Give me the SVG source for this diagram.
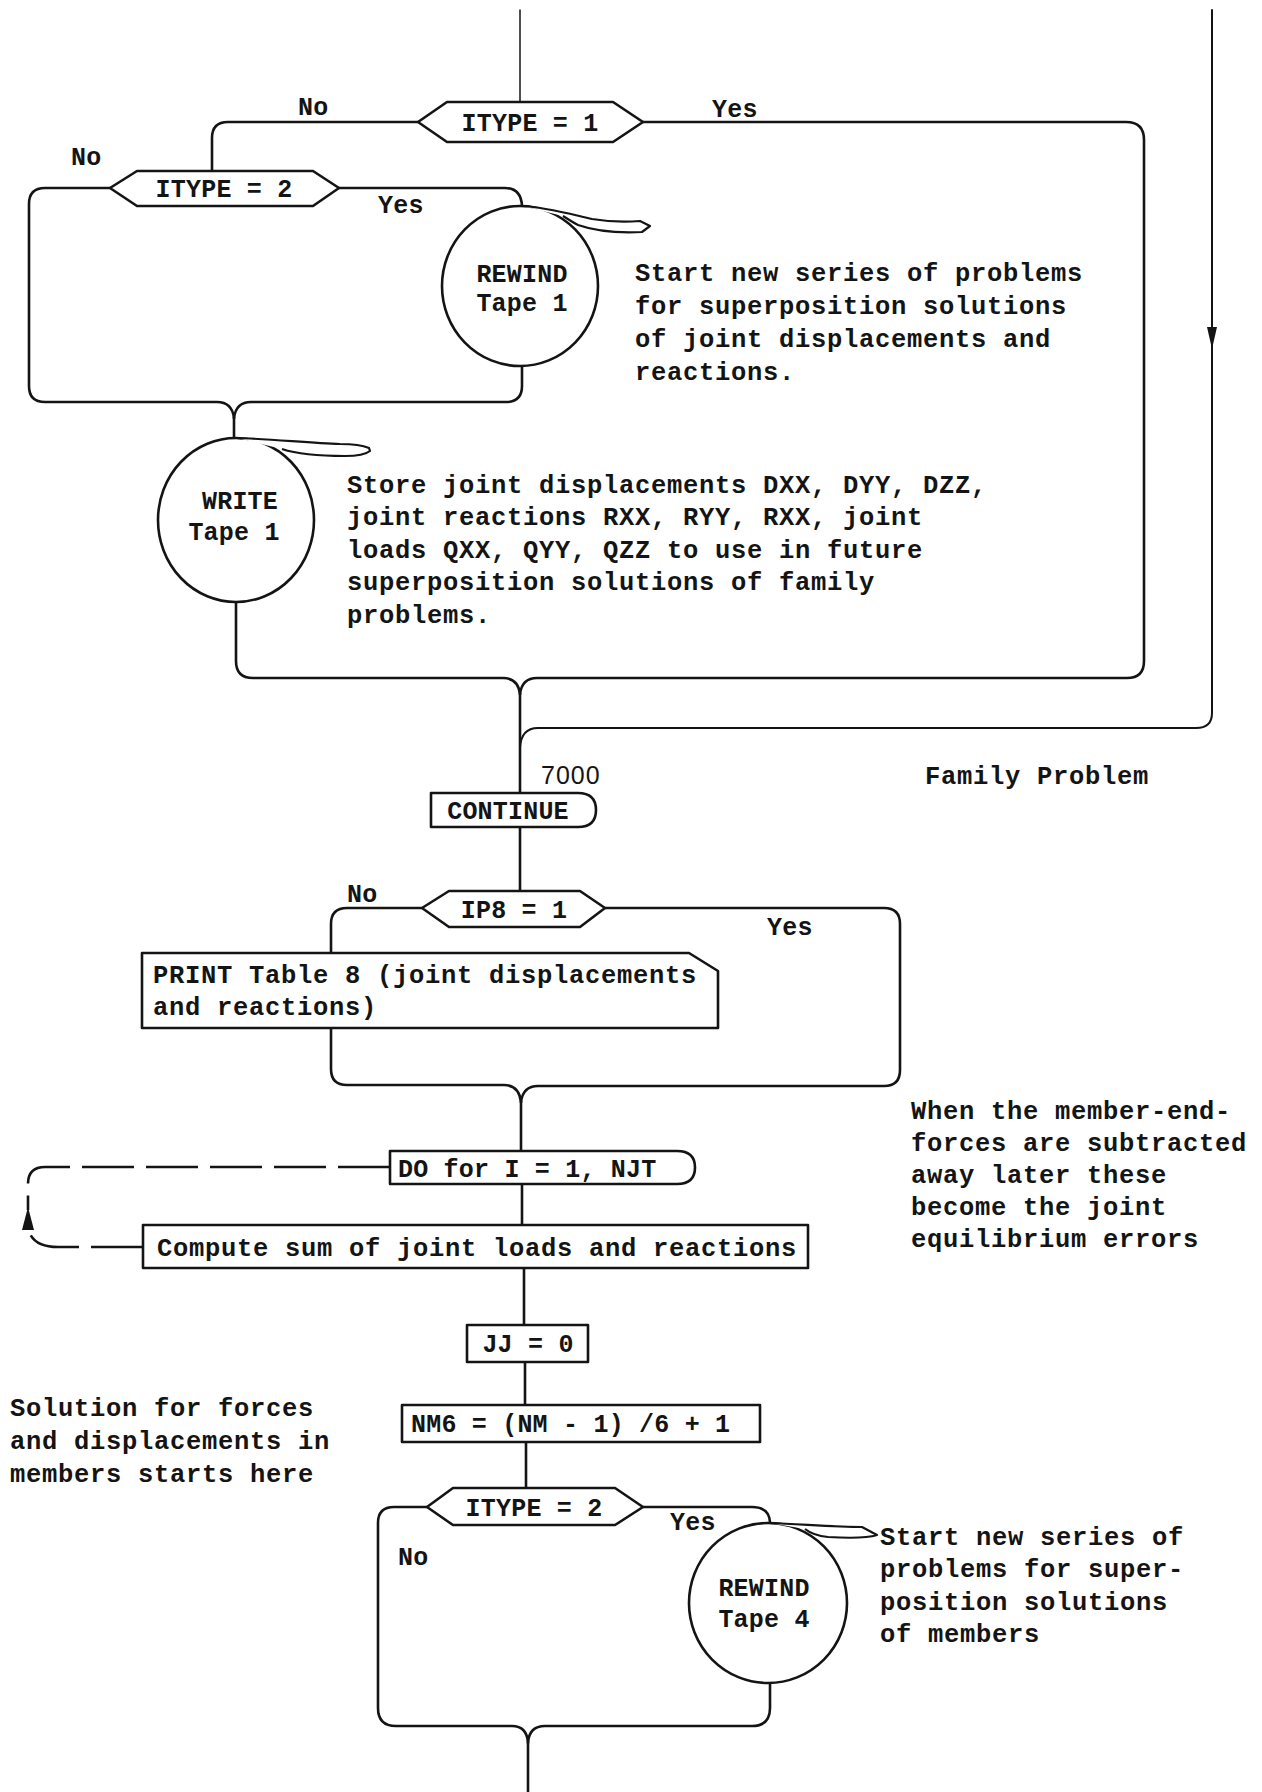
<svg xmlns="http://www.w3.org/2000/svg" width="1262" height="1792" viewBox="0 0 1262 1792">
  <style>
    .ln { fill: none; stroke: #141414; stroke-width: 2.6; stroke-linecap: round; stroke-linejoin: round; }
    .thin { stroke-width: 1.5; }
    .dash { stroke-dasharray: 52 12; stroke-linecap: butt; }
    .shape { fill: #fff; stroke: #141414; stroke-width: 2.6; stroke-linejoin: round; }
    .tail { fill: #fff; stroke: #141414; stroke-width: 2.2; stroke-linejoin: round; }
    .t { font-family: "Liberation Mono", "DejaVu Sans Mono", monospace; font-size: 25.5px; font-weight: bold; letter-spacing: 0.7px; fill: #141414; }
    .lab { font-size: 25px; letter-spacing: 0.2px; }
    .c { text-anchor: middle; }
    .num { font-family: "Liberation Sans", Arial, sans-serif; font-size: 25px; letter-spacing: 1px; fill: #141414; }
  </style>

  <rect width="1262" height="1792" fill="#fff"/>

  <!-- connectors -->
  <g id="connectors">
    <!-- entry from above into ITYPE = 1 -->
    <path class="ln thin" d="M520,10 V102"/>
    <!-- family problem path on the right -->
    <path class="ln" d="M1212,10 V713 Q1212,728 1196,728 H538 Q521,728 520,748" style="stroke-width:2"/>
    <path d="M1207,327 L1217,327 L1212,349 Z" fill="#141414"/>
    <!-- ITYPE = 1 : No -->
    <path class="ln" d="M418,122 H228 Q212,122 212,138 V171"/>
    <!-- ITYPE = 1 : Yes, down the right side and back -->
    <path class="ln" d="M643,122 H1126 Q1144,122 1144,140 V661 Q1144,678 1127,678 H537 Q522,678 520,694"/>
    <!-- ITYPE = 2 : No -->
    <path class="ln" d="M110,188 H45 Q29,188 29,204 V386 Q29,402 45,402 H217 Q232,402 234,418"/>
    <!-- ITYPE = 2 : Yes -->
    <path class="ln" d="M339,188 H505 Q521,188 522,206"/>
    <!-- REWIND tape 1 back to join -->
    <path class="ln" d="M522,366 V386 Q522,402 506,402 H251 Q236,402 234,418"/>
    <path class="ln" d="M234,418 V438"/>
    <!-- WRITE tape 1 down to join -->
    <path class="ln" d="M236,601 V661 Q236,678 253,678 H503 Q518,678 520,694"/>
    <!-- spine to CONTINUE -->
    <path class="ln" d="M520,694 V793"/>
    <path class="ln" d="M520,827 V891"/>
    <!-- IP8 = 1 : No -->
    <path class="ln" d="M422,908 H347 Q331,908 331,924 V953"/>
    <path class="ln" d="M331,1028 V1069 Q331,1085 347,1085 H504 Q519,1085 521,1102"/>
    <!-- IP8 = 1 : Yes -->
    <path class="ln" d="M605,908 H884 Q900,908 900,924 V1070 Q900,1086 884,1086 H538 Q523,1086 521,1102"/>
    <path class="ln" d="M521,1102 V1151"/>
    <!-- DO loop return (dashed) -->
    <path class="ln dash" d="M390,1167 H45 Q28,1167 28,1184 V1210"/>
    <path class="ln dash" d="M143,1247 H58 Q32,1247 28,1228"/>
    <path d="M22,1230 L34,1230 L28,1207 Z" fill="#141414"/>
    <path class="ln" d="M522,1184 V1225"/>
    <path class="ln" d="M524,1268 V1325"/>
    <path class="ln" d="M525,1362 V1405"/>
    <path class="ln" d="M526,1442 V1488"/>
    <!-- ITYPE = 2 (members) : No -->
    <path class="ln" d="M427,1507 H394 Q378,1507 378,1523 V1708 Q378,1726 396,1726 H512 Q527,1726 528,1743 V1792"/>
    <!-- ITYPE = 2 (members) : Yes -->
    <path class="ln" d="M643,1507 H752 Q769,1507 770,1522"/>
    <path class="ln" d="M770,1683 V1708 Q770,1726 752,1726 H545 Q529,1726 528,1743"/>
  </g>

  <!-- decision: ITYPE = 1 -->
  <g id="dec-itype1">
    <polygon class="shape" points="418,122 447,102 613,102 643,122 613,142 447,142"/>
    <text class="t lab c" x="530" y="131">ITYPE = 1</text>
  </g>

  <!-- decision: ITYPE = 2 -->
  <g id="dec-itype2">
    <polygon class="shape" points="110,188 137,171 313,171 339,188 313,206 137,206"/>
    <text class="t lab c" x="224" y="197">ITYPE = 2</text>
  </g>

  <!-- REWIND Tape 1 -->
  <g id="rewind1">
    <ellipse class="shape" cx="520" cy="286" rx="78" ry="80"/>
    <path class="tail" d="M522,206 C545,207 570,214 592,219 C610,222 628,222 640,221 L650,226 L642,232 C620,233 595,231 578,225 C572,222 568,219 563,216"/>
    <text class="t lab c" x="522" y="282">REWIND</text>
    <text class="t lab c" x="522" y="311">Tape 1</text>
  </g>

  <!-- WRITE Tape 1 -->
  <g id="write1">
    <ellipse class="shape" cx="236" cy="520" rx="78" ry="82"/>
    <path class="tail" d="M237,438 C270,439 310,443 340,444 C352,444 362,445 369,448 L370,451 C365,455 355,456 345,456 C320,456 300,455 282,449"/>
    <text class="t lab c" x="240" y="509">WRITE</text>
    <text class="t lab c" x="234" y="540">Tape 1</text>
  </g>

  <!-- CONTINUE -->
  <g id="continue">
    <path class="shape" d="M431,793 H578 Q596,793 596,810 Q596,827 578,827 H431 Z"/>
    <text class="t lab c" x="508" y="819">CONTINUE</text>
  </g>

  <!-- decision: IP8 = 1 -->
  <g id="dec-ip8">
    <polygon class="shape" points="422,908 449,891 580,891 605,908 580,927 449,927"/>
    <text class="t lab c" x="514" y="918">IP8 = 1</text>
  </g>

  <!-- PRINT Table 8 -->
  <g id="print8">
    <polygon class="shape" points="142,953 689,953 718,971 718,1028 142,1028"/>
    <text class="t" x="153" y="983">PRINT Table 8 (joint displacements</text>
    <text class="t" x="153" y="1015">and reactions)</text>
  </g>

  <!-- DO loop -->
  <g id="do-loop">
    <path class="shape" d="M390,1151 H677 Q695,1151 695,1167.5 Q695,1184 677,1184 H390 Z"/>
    <text class="t lab" x="398" y="1177">DO for I = 1, NJT</text>
  </g>

  <!-- Compute sum -->
  <g id="compute-sum">
    <rect class="shape" x="143" y="1225" width="665" height="43"/>
    <text class="t" x="157" y="1256">Compute sum of joint loads and reactions</text>
  </g>

  <!-- JJ = 0 -->
  <g id="jj">
    <rect class="shape" x="467" y="1325" width="121" height="37"/>
    <text class="t lab c" x="528" y="1352">JJ = 0</text>
  </g>

  <!-- NM6 -->
  <g id="nm6">
    <rect class="shape" x="402" y="1405" width="358" height="37"/>
    <text class="t lab" x="411" y="1432">NM6 = (NM - 1) /6 + 1</text>
  </g>

  <!-- decision: ITYPE = 2 (members) -->
  <g id="dec-itype2-members">
    <polygon class="shape" points="427,1507 453,1488 615,1488 643,1507 615,1525 453,1525"/>
    <text class="t lab c" x="534" y="1516">ITYPE = 2</text>
  </g>

  <!-- REWIND Tape 4 -->
  <g id="rewind4">
    <ellipse class="shape" cx="768" cy="1603" rx="79" ry="80"/>
    <path class="tail" d="M770,1523 C800,1524 835,1527 862,1527 L877,1535 C865,1539 845,1538 828,1537 C818,1536 810,1533 805,1529"/>
    <text class="t lab c" x="764" y="1596">REWIND</text>
    <text class="t lab c" x="764" y="1627">Tape 4</text>
  </g>

  <!-- branch labels -->
  <g id="labels">
    <text class="t lab" x="298" y="115">No</text>
    <text class="t lab" x="712" y="117">Yes</text>
    <text class="t lab" x="71" y="165">No</text>
    <text class="t lab" x="378" y="213">Yes</text>
    <text class="num" x="541" y="784">7000</text>
    <text class="t lab" x="347" y="902">No</text>
    <text class="t lab" x="767" y="935">Yes</text>
    <text class="t lab" x="398" y="1565">No</text>
    <text class="t lab" x="670" y="1530">Yes</text>
  </g>

  <!-- annotations -->
  <g id="notes">
    <text class="t" x="635" y="281">Start new series of problems</text>
    <text class="t" x="635" y="314">for superposition solutions</text>
    <text class="t" x="635" y="347">of joint displacements and</text>
    <text class="t" x="635" y="380">reactions.</text>

    <text class="t" x="347" y="493">Store joint displacements DXX, DYY, DZZ,</text>
    <text class="t" x="347" y="525">joint reactions RXX, RYY, RXX, joint</text>
    <text class="t" x="347" y="558">loads QXX, QYY, QZZ to use in future</text>
    <text class="t" x="347" y="590">superposition solutions of family</text>
    <text class="t" x="347" y="623">problems.</text>

    <text class="t" x="925" y="784">Family Problem</text>

    <text class="t" x="911" y="1119">When the member-end-</text>
    <text class="t" x="911" y="1151">forces are subtracted</text>
    <text class="t" x="911" y="1183">away later these</text>
    <text class="t" x="911" y="1215">become the joint</text>
    <text class="t" x="911" y="1247">equilibrium errors</text>

    <text class="t" x="10" y="1416">Solution for forces</text>
    <text class="t" x="10" y="1449">and displacements in</text>
    <text class="t" x="10" y="1482">members starts here</text>

    <text class="t" x="880" y="1545">Start new series of</text>
    <text class="t" x="880" y="1577">problems for super-</text>
    <text class="t" x="880" y="1610">position solutions</text>
    <text class="t" x="880" y="1642">of members</text>
  </g>
</svg>
